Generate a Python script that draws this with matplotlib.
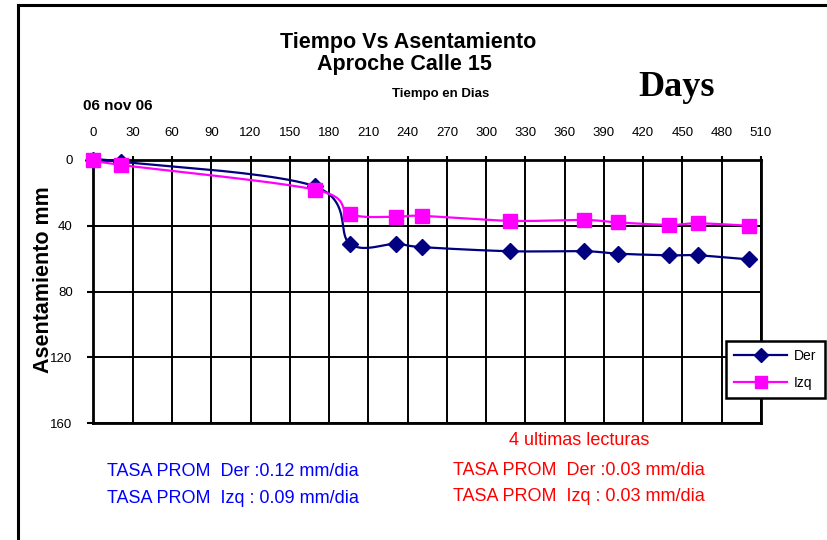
import numpy as np
import matplotlib
matplotlib.use("Agg")
import matplotlib.pyplot as plt
from matplotlib.lines import Line2D

# ---- data ----
days = [0, 21, 169, 196, 231, 251, 318, 375, 401, 440, 462, 501]
der = [0, 1, 16, 51, 51, 53, 55.5, 55.5, 57, 58, 58, 60.5]
izq = [0, 3, 18, 33, 34.5, 34, 37, 36.5, 38, 39.5, 38.5, 40]
xticks = list(range(0, 511, 30))
yticks = [0, 40, 80, 120, 160]

W, H = 828, 540
plt.rcParams['font.family'] = ['Liberation Sans', 'DejaVu Sans']

fig = plt.figure(figsize=(W / 100, H / 100), dpi=100)
L, R, T, B = 93.5, 761, 160, 423
ax = fig.add_axes([L / W, 1 - B / H, (R - L) / W, (B - T) / H])

sx = (R - L) / 510.0
sy = (B - T) / 160.0


def smooth(xs, ys, n=24):
    P = np.column_stack([np.asarray(xs, float) * sx, np.asarray(ys, float) * sy])
    out = [P[0]]
    t = np.linspace(0, 1, n)[1:, None]
    for i in range(len(P) - 1):
        p0 = P[i - 1] if i > 0 else P[i]
        p1, p2 = P[i], P[i + 1]
        p3 = P[i + 2] if i + 2 < len(P) else P[i + 1]
        c1 = p1 + (p2 - p0) / 6
        c2 = p2 - (p3 - p1) / 6
        seg = (1 - t) ** 3 * p1 + 3 * (1 - t) ** 2 * t * c1 + 3 * (1 - t) * t ** 2 * c2 + t ** 3 * p2
        out.extend(seg)
    out = np.array(out)
    return out[:, 0] / sx, out[:, 1] / sy


navy = '#000080'
mag = '#FF00FF'
dx, dy = smooth(days, der)
ax.plot(dx, dy, color=navy, lw=1.6, zorder=3, clip_on=False)
ax.plot(days, der, ls='none', marker='D', ms=8, color=navy, zorder=4, clip_on=False)
ix, iy = smooth(days, izq)
ax.plot(ix, iy, color=mag, lw=1.6, zorder=5, clip_on=False)
ax.plot(days, izq, ls='none', marker='s', ms=10.5, color=mag, zorder=6, clip_on=False)

h1 = Line2D([], [], color=navy, lw=1.6, marker='D', ms=7)
h2 = Line2D([], [], color=mag, lw=1.6, marker='s', ms=8)

ax.set_xlim(0, 510)
ax.set_ylim(160, 0)
ax.set_xticks(xticks)
ax.set_yticks(yticks)
ax.xaxis.tick_top()
ax.tick_params(axis='x', direction='out', length=3, width=1.5, pad=12, labelsize=9.5)
ax.tick_params(axis='y', direction='out', length=4, width=1.5, pad=11, labelsize=9.5)
ax.grid(True, color='black', lw=1.4, zorder=1)
for s in ax.spines.values():
    s.set_linewidth(2.0)
    s.set_zorder(2)
ax.set_axisbelow(True)

ax.set_ylabel('Asentamiento mm', fontsize=15.5, fontweight='bold')
ax.yaxis.set_label_coords((54 - L) / (R - L), (B - 280) / (B - T))


def ftext(x, y, s, **kw):
    fig.text(x / W, 1 - y / H, s, va='baseline', **kw)


ftext(408, 48, 'Tiempo Vs Asentamiento', ha='center', fontsize=15.5, fontweight='bold')
ftext(404, 70, 'Aproche Calle 15', ha='center', fontsize=15.5, fontweight='bold')
ftext(441, 97, 'Tiempo en Dias', ha='center', fontsize=9.5, fontweight='bold')
ftext(677, 96, 'Days', ha='center', fontsize=26, fontweight='bold', family='Liberation Serif')
ftext(83, 110, '06 nov 06', ha='left', fontsize=11, fontweight='bold')

ftext(579, 445, '4 ultimas lecturas', ha='center', fontsize=13, color='#FF0000')
ftext(107, 476, 'TASA PROM  Der :0.12 mm/dia', ha='left', fontsize=13, color='#0000FF')
ftext(107, 503, 'TASA PROM  Izq : 0.09 mm/dia', ha='left', fontsize=13, color='#0000FF')
ftext(453, 475, 'TASA PROM  Der :0.03 mm/dia', ha='left', fontsize=13, color='#FF0000')
ftext(453, 501, 'TASA PROM  Izq : 0.03 mm/dia', ha='left', fontsize=13, color='#FF0000')

leg = fig.legend([h1, h2], ['Der', 'Izq'], loc='upper left',
                 bbox_to_anchor=(726 / W, 1 - 341 / H), frameon=True, fancybox=False,
                 edgecolor='black', framealpha=1, fontsize=10, handlelength=3.8,
                 labelspacing=0.9, borderpad=0.6, handletextpad=0.5, borderaxespad=0)
leg.get_frame().set_linewidth(1.8)

# outer chart border (top & left)
fig.add_artist(Line2D([18 / W, 18 / W], [0, 1 - 5 / H], color='black', lw=2.2, transform=fig.transFigure))
fig.add_artist(Line2D([18 / W, 1], [1 - 5 / H, 1 - 5 / H], color='black', lw=2.2, transform=fig.transFigure))

fig.savefig('out.png', dpi=100)
